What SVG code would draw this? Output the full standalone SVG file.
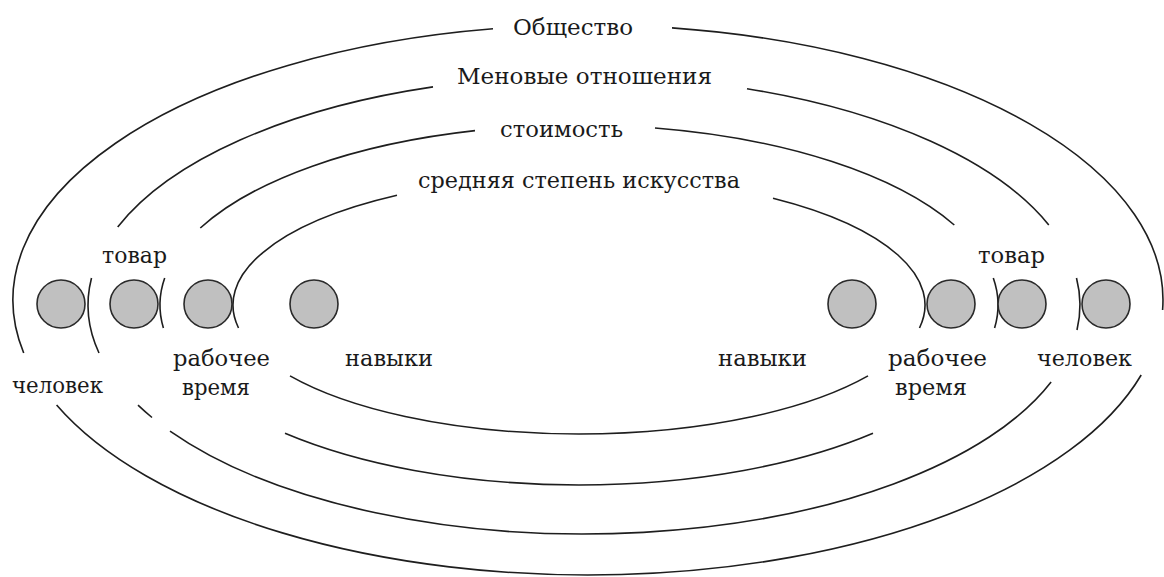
<svg xmlns="http://www.w3.org/2000/svg" width="1164" height="577" viewBox="0 0 1164 577">
<style>
.arc{fill:none;stroke:#1e1e1e;stroke-width:1.6}
.node{fill:#c0c0c0;stroke:#2a2a2a;stroke-width:1.6}
text{font-family:"DejaVu Serif","Liberation Serif",serif;font-size:23px;fill:#1a1a1a}
</style>
<rect width="1164" height="577" fill="#ffffff"/>
<g id="connectors">
<g id="e1">
<path class="arc" d="M 23.7 353 A 575 275 0 0 1 493 28.8"/>
<path class="arc" d="M 672 27.9 A 575 275 0 0 1 1162.6 310"/>
<path class="arc" d="M 1141.2 375 A 575 275 0 0 1 56.6 405"/>
</g>
<g id="e2">
<path class="arc" d="M 117.7 227 A 496 229 0 0 1 433 86.9"/>
<path class="arc" d="M 747 88.7 A 496 229 0 0 1 1048.8 225"/>
<path class="arc" d="M 99 353 A 496 229 0 0 1 91.5 278"/>
<path class="arc" d="M 1076.5 278 A 496 229 0 0 1 1077 330"/>
<path class="arc" d="M 1051.1 382 A 496 229 0 0 1 170 431.1"/>
<path class="arc" d="M 152 417.5 A 496 229 0 0 1 138 405.2"/>
</g>
<g id="e3">
<path class="arc" d="M 200.3 228 A 419 180 0 0 1 475 130.6"/>
<path class="arc" d="M 655 128 A 419 180 0 0 1 954.3 225"/>
<path class="arc" d="M 163.4 328 A 419 180 0 0 1 164.7 278"/>
<path class="arc" d="M 993.3 278 A 419 180 0 0 1 994.6 328"/>
<path class="arc" d="M 873 433.2 A 419 180 0 0 1 285 433.2"/>
</g>
<g id="e4">
<path class="arc" d="M 238.5 328 A 346 129 0 0 1 397 195.3"/>
<path class="arc" d="M 773 198.2 A 346 129 0 0 1 919.5 328"/>
<path class="arc" d="M 868 375.9 A 346 129 0 0 1 290 375.9"/>
</g>
</g>
<g id="labels">
<text x="513" y="35" textLength="120" lengthAdjust="spacingAndGlyphs">Общество</text>
<text x="457" y="84" textLength="255" lengthAdjust="spacingAndGlyphs">Меновые отношения</text>
<text x="500" y="137" textLength="123" lengthAdjust="spacingAndGlyphs">стоимость</text>
<text x="418" y="188" textLength="322" lengthAdjust="spacingAndGlyphs">средняя степень искусства</text>
</g>
<g id="node-chelovek-left"><circle class="node" cx="61" cy="304" r="24"/><text x="12" y="393" textLength="91" lengthAdjust="spacingAndGlyphs">человек</text></g>
<g id="node-tovar-left"><circle class="node" cx="134" cy="304" r="24"/><text x="102" y="263" textLength="65" lengthAdjust="spacingAndGlyphs">товар</text></g>
<g id="node-rabvremya-left"><circle class="node" cx="208" cy="304" r="24"/><text x="173" y="366" textLength="97" lengthAdjust="spacingAndGlyphs">рабочее</text><text x="182" y="395" textLength="68" lengthAdjust="spacingAndGlyphs">время</text></g>
<g id="node-navyki-left"><circle class="node" cx="314" cy="304" r="24"/><text x="345" y="366" textLength="88" lengthAdjust="spacingAndGlyphs">навыки</text></g>
<g id="node-navyki-right"><circle class="node" cx="852" cy="304" r="24"/><text x="718" y="366" textLength="89" lengthAdjust="spacingAndGlyphs">навыки</text></g>
<g id="node-rabvremya-right"><circle class="node" cx="951" cy="304" r="24"/><text x="888" y="366" textLength="99" lengthAdjust="spacingAndGlyphs">рабочее</text><text x="895" y="395" textLength="72" lengthAdjust="spacingAndGlyphs">время</text></g>
<g id="node-tovar-right"><circle class="node" cx="1022" cy="304" r="24"/><text x="978" y="263" textLength="67" lengthAdjust="spacingAndGlyphs">товар</text></g>
<g id="node-chelovek-right"><circle class="node" cx="1106" cy="304" r="24"/><text x="1037" y="366" textLength="95" lengthAdjust="spacingAndGlyphs">человек</text></g>
</svg>
